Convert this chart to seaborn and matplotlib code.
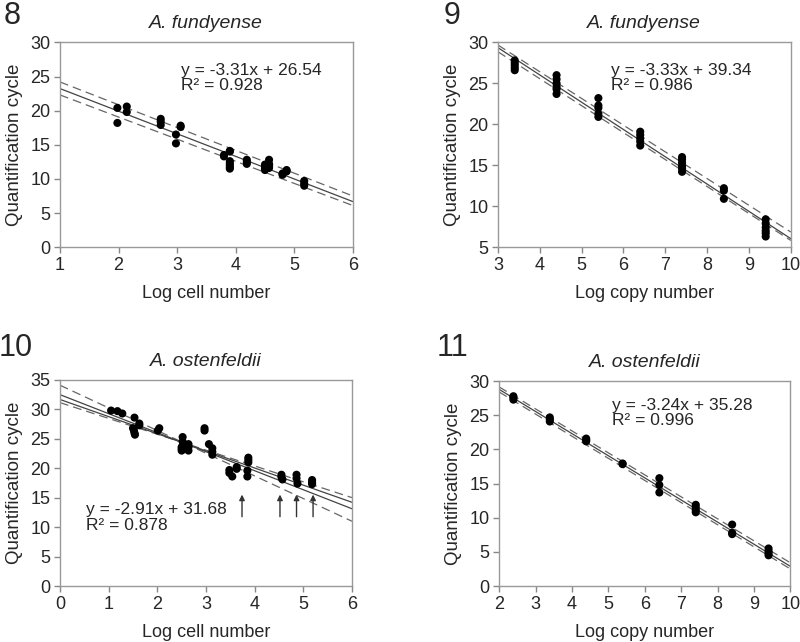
import numpy as np
import pandas as pd
import matplotlib.pyplot as plt
import seaborn as sns

# Panel 8: A. fundyense, cell number
x8 = [1.98, 1.98, 2.14, 2.14, 2.72, 2.72, 2.72, 2.98, 2.98, 3.06, 3.06,
      3.80, 3.80, 3.90, 3.90, 3.90, 3.90, 3.90, 3.90, 3.90,
      4.19, 4.19, 4.19, 4.50, 4.50, 4.50, 4.50, 4.57, 4.57, 4.57, 4.57,
      4.80, 4.80, 4.87, 4.87, 5.17, 5.17, 5.17]
y8 = [20.4, 18.2, 20.6, 19.8, 18.8, 18.4, 17.9, 16.5, 15.2, 17.8, 17.6,
      13.5, 13.3, 14.1, 14.0, 12.6, 12.3, 12.0, 11.7, 11.5,
      12.8, 12.5, 12.2, 12.1, 11.8, 11.5, 11.3, 12.8, 12.2, 11.9, 11.6,
      10.8, 10.6, 11.3, 11.1, 9.7, 9.3, 9.0]

# Panel 9: A. fundyense, copy number
x9 = [3.4] * 5 + [4.4] * 6 + [5.4] * 5 + [6.4] * 5 + [7.4] * 6 + [8.4] * 3 + [9.4] * 6
y9 = [27.8, 27.5, 27.2, 26.9, 26.6,
      26.0, 25.5, 25.0, 24.6, 24.3, 23.7,
      23.2, 22.3, 22.0, 21.3, 20.9,
      19.1, 18.7, 18.3, 17.9, 17.4,
      16.0, 15.7, 15.3, 14.9, 14.6, 14.2,
      12.2, 11.9, 10.9,
      8.4, 7.9, 7.4, 7.0, 6.7, 6.3]

# Panel 10: A. ostenfeldii, cell number
x10 = [1.05, 1.18, 1.28, 1.53, 1.50, 1.52, 1.53, 1.54, 1.63, 1.63,
       2.01, 2.04, 2.52, 2.52, 2.50, 2.50, 2.50, 2.64, 2.64, 2.64,
       2.97, 2.97, 3.06, 3.13, 3.13, 3.13, 3.48, 3.48, 3.54, 3.63, 3.63,
       3.87, 3.87, 3.87, 3.85, 3.85, 4.55, 4.55, 4.57, 4.86, 4.86, 4.88,
       5.18, 5.18, 5.18]
y10 = [29.8, 29.7, 29.3, 28.6, 26.8, 26.4, 26.0, 25.7, 27.6, 27.3,
       26.4, 26.8, 25.3, 24.5, 23.6, 23.3, 23.0, 24.1, 23.6, 23.0,
       26.8, 26.4, 24.1, 23.4, 22.8, 22.3, 19.7, 19.2, 18.6, 20.2, 19.9,
       21.8, 21.4, 21.0, 19.6, 18.6, 18.9, 18.5, 18.1, 18.9, 18.3, 17.4,
       18.0, 17.6, 17.3]
arrows10 = [3.74, 4.52, 4.86, 5.20]

# Panel 11: A. ostenfeldii, copy number
x11 = [2.39] * 3 + [3.39] * 3 + [4.39] * 3 + [5.39] * 2 + [6.4] * 3 + [7.4] * 4 + [8.4] * 3 + [9.4] * 4
y11 = [27.8, 27.6, 27.3,
       24.7, 24.4, 24.1,
       21.6, 21.4, 21.2,
       17.95, 17.85,
       15.8, 14.8, 13.7,
       11.9, 11.5, 11.1, 10.8,
       9.0, 7.8, 7.6,
       5.5, 5.1, 4.8, 4.5]

# fitted lines (slope, intercept); solid = regression, dashed = bands
solid8, dashed8 = [(-3.31, 26.54)], [(-3.34, 27.54), (-3.24, 25.54)]
solid9, dashed9 = [(-3.33, 39.34)], [(-3.26, 39.45), (-3.29, 38.72)]
solid10, dashed10 = [(-2.91, 31.68), (-3.23, 32.5)], [(-3.85, 34.1), (-2.69, 31.15)]
solid11, dashed11 = [(-3.24, 35.28)], [(-3.22, 35.6), (-3.24, 34.9)]

sns.set_style("white")
plt.rcParams['font.family'] = ['Liberation Sans', 'DejaVu Sans']

fig = plt.figure(figsize=(8, 6.42), dpi=100)

panels = [
    dict(num='8', title='A. fundyense', x=x8, y=y8, solid=solid8, dashed=dashed8,
         xlim=(1, 6), ylim=(0, 30), ystep=5, xlabel='Log cell number',
         eq='y = -3.31x + 26.54\nR² = 0.928', eqpos=(3.07, 27.0),
         rect=[0.075, 0.615, 0.366, 0.319], numpos=(0.005, 0.998)),
    dict(num='9', title='A. fundyense', x=x9, y=y9, solid=solid9, dashed=dashed9,
         xlim=(3, 10), ylim=(5, 30), ystep=5, xlabel='Log copy number',
         eq='y = -3.33x + 39.34\nR² = 0.986', eqpos=(5.71, 27.5),
         rect=[0.6225, 0.615, 0.366, 0.319], numpos=(0.555, 0.998)),
    dict(num='10', title='A. ostenfeldii', x=x10, y=y10, solid=solid10, dashed=dashed10,
         xlim=(0, 6), ylim=(0, 35), ystep=5, xlabel='Log cell number',
         eq='y = -2.91x + 31.68\nR² = 0.878', eqpos=(0.53, 14.2),
         rect=[0.075, 0.0872, 0.365, 0.321], numpos=(-0.002, 0.482)),
    dict(num='11', title='A. ostenfeldii', x=x11, y=y11, solid=solid11, dashed=dashed11,
         xlim=(2, 10), ylim=(0, 30), ystep=5, xlabel='Log copy number',
         eq='y = -3.24x + 35.28\nR² = 0.996', eqpos=(5.1, 27.6),
         rect=[0.624, 0.0872, 0.364, 0.319], numpos=(0.546, 0.482)),
]

for p in panels:
    ax = fig.add_axes(p['rect'])
    xs = np.array(p['xlim'], dtype=float)
    for m, b in p['dashed']:
        ax.plot(xs, m * xs + b, color='#666666', lw=0.9, dashes=(7, 4))
    for m, b in p['solid']:
        ax.plot(xs, m * xs + b, color='#444444', lw=0.9)
    df = pd.DataFrame({'x': p['x'], 'y': p['y']})
    sns.scatterplot(data=df, x='x', y='y', ax=ax, color='black', s=34,
                    edgecolor='none', zorder=3)

    if p['num'] == '10':
        for xa in arrows10:
            ax.annotate('', xy=(xa, 16.0), xytext=(xa, 11.3),
                        arrowprops=dict(arrowstyle='-|>', color='#333333',
                                        lw=1.0, mutation_scale=8))

    ax.set_xlim(p['xlim'])
    ax.set_ylim(p['ylim'])
    ax.set_xticks(np.arange(p['xlim'][0], p['xlim'][1] + 1, 1))
    ax.set_yticks(np.arange(p['ylim'][0], p['ylim'][1] + 1, p['ystep']))
    ax.tick_params(axis='both', direction='out', length=4, width=1,
                   color='#888888', labelsize=13, pad=3, bottom=True, left=True)
    for s in ax.spines.values():
        s.set_color('#999999')
        s.set_linewidth(1.0)
    ax.set_xlabel(p['xlabel'], fontsize=13, labelpad=8)
    ax.set_ylabel('Quantification cycle', fontsize=13.5, labelpad=5)
    ax.set_title(p['title'], fontsize=14, style='italic', pad=10)
    ax.text(p['eqpos'][0], p['eqpos'][1], p['eq'], fontsize=12.5,
            ha='left', va='top', linespacing=1.05)
    fig.text(p['numpos'][0], p['numpos'][1], p['num'], fontsize=22,
             ha='left', va='top')

fig.savefig('out.png', dpi=100)
